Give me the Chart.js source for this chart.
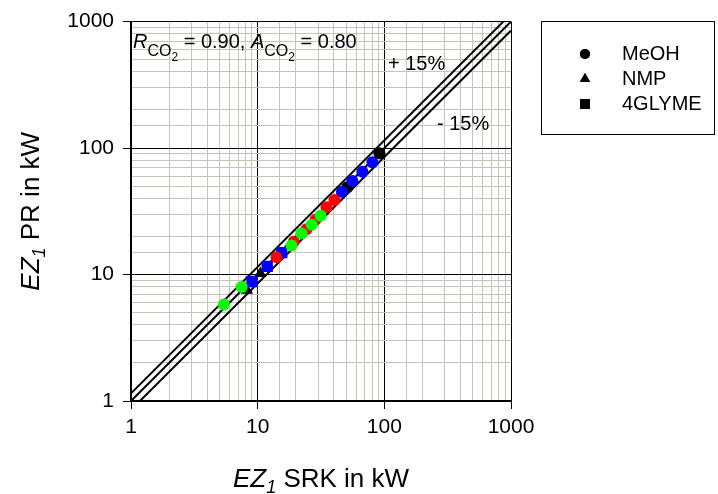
<!DOCTYPE html>
<html>
<head>
<meta charset="utf-8">
<script src="https://cdn.jsdelivr.net/npm/chart.js@4.4.1/dist/chart.umd.min.js"></script>
<style>
    html, body { margin: 0; padding: 0; background: #ffffff; }
    #chart { display: block; }
</style>
</head>
<body>
<canvas id="chart" width="718" height="494"></canvas>
<script>

// ==========================================================
// DATA
// ==========================================================

const greenX = [5.42, 7.48, 18.5, 22.2, 26.7, 31.4];
const greenY = [5.80, 7.98, 17.0, 21.1, 24.8, 29.1];
const greenShape = ["circle", "circle", "circle", "circle", "circle", "circle"];

const redX = [14.1, 19.3, 24.3, 28.6, 35.0, 40.4];
const redY = [13.7, 18.2, 22.8, 27.1, 34.0, 38.9];
const redShape = ["circle", "circle", "circle", "circle", "circle", "circle"];

const blueX = [9.02, 11.9, 15.5, 46.3, 56.0, 67.2, 80.5];
const blueY = [8.81, 11.6, 14.9, 45.2, 54.8, 65.0, 77.4];
const blueShape = ["rect", "rect", "rect", "circle", "circle", "circle", "circle"];

const blackX = [8.24, 10.5, 51.0, 91.5];
const blackY = [7.52, 10.2, 49.1, 91.0];
const blackShape = ["triangle", "triangle", "circle", "circle"];

// parity line and +/- 15 % band
const lineX = [1, 1000];
const lineEqual = [1, 1000];
const lineUpper = [1.15, 1150];
const lineLower = [0.85, 850];

const axisTicks = [1, 10, 100, 1000];

const solvents = ["MeOH", "NMP", "4GLYME"];
const solventShapes = ["circle", "triangle", "rect"];

// ==========================================================
// HELPERS
// ==========================================================

const FONT = "Arial, 'Liberation Sans', sans-serif";

function toPoints(xs, ys) {
    return xs.map((x, i) => ({ x: x, y: ys[i] }));
}

function markerRadius(shape) {
    return shape === "rect" ? 8 : (shape === "triangle" ? 7 : 6);
}

function markerDataset(xs, ys, shapes, color, order) {
    return {
        data: toPoints(xs, ys),
        showLine: false,
        pointStyle: shapes,
        pointRadius: shapes.map(markerRadius),
        pointBackgroundColor: color,
        pointBorderColor: color,
        pointBorderWidth: 0,
        order: order
    };
}

function lineDataset(ys) {
    return {
        data: toPoints(lineX, ys),
        showLine: true,
        borderColor: "#000000",
        borderWidth: 2,
        pointRadius: 0,
        tension: 0,
        clip: 0,
        order: 10
    };
}

function isDecade(v) {
    return axisTicks.includes(v);
}

// text pieces each with own font and baseline shift
function richWidth(ctx, parts) {
    let w = 0;
    parts.forEach(p => {
        ctx.font = p.font;
        w += ctx.measureText(p.text).width;
    });
    return w;
}

function drawRich(ctx, parts, x, y) {
    parts.forEach(p => {
        ctx.font = p.font;
        ctx.fillText(p.text, x, y + (p.dy || 0));
        x += ctx.measureText(p.text).width;
    });
}

function axisTitle(name) {
    return [
        { text: "EZ", font: "italic 26px " + FONT },
        { text: "1", font: "italic 18px " + FONT, dy: 6 },
        { text: " " + name + " in kW", font: "26px " + FONT }
    ];
}

function co2Label(letter, value) {
    return [
        { text: letter, font: "italic 20px " + FONT },
        { text: "CO", font: "16px " + FONT, dy: 8 },
        { text: "2", font: "12px " + FONT, dy: 13 },
        { text: " = " + value, font: "20px " + FONT }
    ];
}

// ==========================================================
// TEXT + LEGEND PLUGIN
// ==========================================================

const decorations = {
    id: "decorations",
    afterDraw(chart) {
        const ctx = chart.ctx;
        const area = chart.chartArea;
        ctx.save();
        ctx.fillStyle = "#000000";
        ctx.textAlign = "left";
        ctx.textBaseline = "alphabetic";

        // x title
        const xt = axisTitle("SRK");
        drawRich(ctx, xt, (area.left + area.right) / 2 - richWidth(ctx, xt) / 2, 487);

        // y title
        const yt = axisTitle("PR");
        ctx.save();
        ctx.translate(39, (area.top + area.bottom) / 2);
        ctx.rotate(-Math.PI / 2);
        drawRich(ctx, yt, -richWidth(ctx, yt) / 2, 0);
        ctx.restore();

        // R / A annotation
        const ann = co2Label("R", "0.90, ").concat(co2Label("A", "0.80"));
        drawRich(ctx, ann, 133, 48);

        // band labels
        ctx.font = "20px " + FONT;
        ctx.fillText("+ 15%", 388, 70);
        ctx.fillText("- 15%", 437, 130);

        // legend box
        ctx.strokeStyle = "#000000";
        ctx.lineWidth = 1;
        ctx.strokeRect(541.5, 21.5, 173, 113);

        solvents.forEach((name, i) => {
            const my = 54 + i * 25;
            const shape = solventShapes[i];
            Chart.helpers.drawPoint(ctx, {
                pointStyle: shape,
                radius: markerRadius(shape) - 1,
                rotation: 0,
                borderWidth: 0
            }, 585, my);
            ctx.fill();
            ctx.font = "20px " + FONT;
            ctx.textBaseline = "middle";
            ctx.fillText(name, 622, my);
        });

        ctx.restore();
    }
};

// ==========================================================
// CHART
// ==========================================================

function logAxis(position, size, pad) {
    return {
        type: "logarithmic",
        position: position,
        min: 1,
        max: 1000,
        afterFit(scale) {
            if (position === "bottom") scale.height = size;
            else scale.width = size;
        },
        border: {
            display: true,
            color: "#000000",
            width: 2
        },
        grid: {
            drawOnChartArea: true,
            lineWidth: 1,
            tickLength: 8,
            color: c => isDecade(c.tick.value) ? "#000000" : "#c4c4b8",
            tickColor: c => isDecade(c.tick.value) ? "#000000" : "rgba(0,0,0,0)"
        },
        ticks: {
            autoSkip: false,
            maxRotation: 0,
            padding: pad,
            color: "#000000",
            font: { family: FONT, size: 21 },
            callback: v => isDecade(v) ? String(v) : ""
        }
    };
}

new Chart(document.getElementById("chart").getContext("2d"), {
    type: "scatter",
    data: {
        datasets: [
            markerDataset(greenX, greenY, greenShape, "#00ff00", 1),
            markerDataset(redX, redY, redShape, "#ff0000", 2),
            markerDataset(blueX, blueY, blueShape, "#0000ff", 3),
            markerDataset(blackX, blackY, blackShape, "#000000", 4),
            lineDataset(lineEqual),
            lineDataset(lineUpper),
            lineDataset(lineLower)
        ]
    },
    options: {
        responsive: false,
        animation: false,
        layout: {
            padding: { left: 0, top: 21, right: 207, bottom: 0 }
        },
        plugins: {
            legend: { display: false },
            tooltip: { enabled: false },
            title: { display: false }
        },
        scales: {
            x: logAxis("bottom", 93, 6),
            y: logAxis("left", 131, 9)
        }
    },
    plugins: [decorations]
});

</script>
</body>
</html>
